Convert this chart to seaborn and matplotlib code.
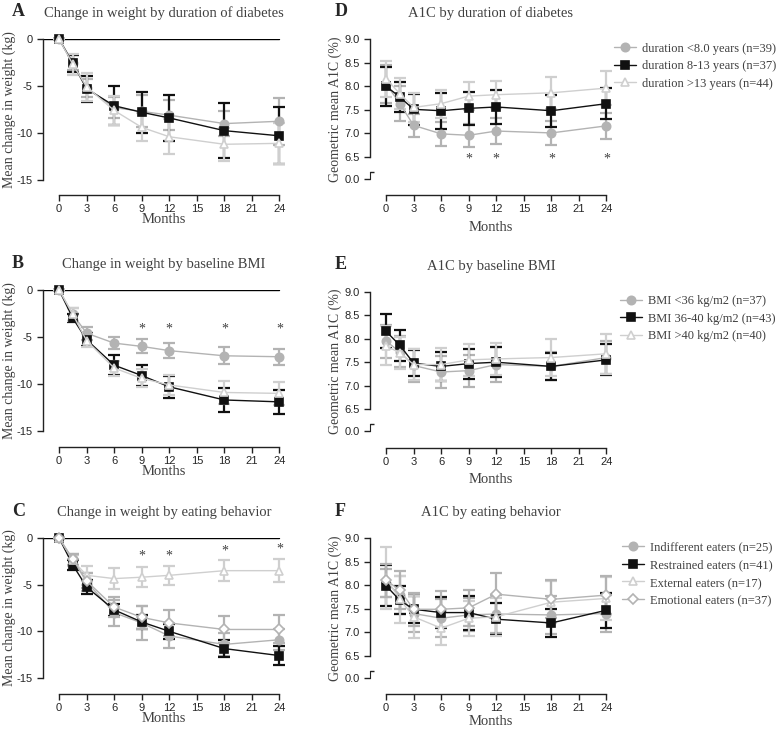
import numpy as np
import pandas as pd
import seaborn as sns
import matplotlib.pyplot as plt
from matplotlib.ticker import FormatStrFormatter

# ---- data ----
months = [0, 1.5, 3, 6, 9, 12, 18, 24]
month_ticks = [0, 3, 6, 9, 12, 15, 18, 21, 24]

# A: weight change by duration of diabetes
wt_dur_lt8 = [0, -2.5, -5.2, -7.3, -7.7, -8.1, -9.0, -8.75]
wt_dur_lt8_se = [0, 0.75, 0.95, 1.1, 1.7, 1.6, 1.3, 2.5]
wt_dur_8_13 = [0, -2.6, -5.3, -7.1, -7.8, -8.4, -9.75, -10.3]
wt_dur_8_13_se = [0, 0.95, 1.4, 2.1, 2.2, 2.45, 2.95, 3.05]
wt_dur_gt13 = [0, -2.7, -5.1, -7.6, -9.4, -10.4, -11.2, -11.1]
wt_dur_gt13_se = [0, 1.1, 1.5, 1.5, 1.5, 1.85, 1.75, 2.2]

# B: weight change by baseline BMI
wt_bmi_lt36 = [0, -2.6, -4.6, -5.65, -6.0, -6.45, -7.0, -7.1]
wt_bmi_lt36_se = [0, 0.7, 0.7, 0.65, 0.75, 0.8, 0.9, 0.85]
wt_bmi_36_40 = [0, -3.0, -5.3, -8.0, -9.1, -10.3, -11.7, -11.9]
wt_bmi_36_40_se = [0, 0.45, 0.7, 1.05, 1.1, 1.15, 1.25, 1.3]
wt_bmi_gt40 = [0, -2.6, -5.4, -8.3, -9.4, -10.1, -10.9, -11.0]
wt_bmi_gt40_se = [0, 0.7, 0.7, 0.8, 0.95, 1.1, 1.2, 1.25]

# C: weight change by eating behavior
wt_indiff = [0, -2.3, -4.7, -8.0, -9.1, -10.5, -11.4, -10.9]
wt_indiff_se = [0, 0.6, 1.0, 1.4, 1.8, 1.3, 1.2, 1.1]
wt_restr = [0, -2.9, -5.25, -7.7, -9.0, -10.0, -11.85, -12.6]
wt_restr_se = [0, 0.5, 0.7, 0.65, 0.8, 0.8, 0.95, 1.0]
wt_extern = [0, -2.4, -4.0, -4.35, -4.2, -4.0, -3.5, -3.5]
wt_extern_se = [0, 0.6, 1.0, 1.1, 1.05, 1.05, 1.1, 1.25]
wt_emot = [0, -2.3, -4.6, -7.4, -8.5, -9.1, -9.8, -9.8]
wt_emot_se = [0, 0.6, 0.8, 1.05, 1.2, 1.4, 1.4, 1.5]

# D: A1C by duration of diabetes
a1c_dur_lt8 = [8.05, 7.63, 7.17, 6.99, 6.96, 7.05, 7.01, 7.16]
a1c_dur_lt8_se = [0.4, 0.37, 0.25, 0.25, 0.24, 0.27, 0.26, 0.28]
a1c_dur_8_13 = [8.0, 7.77, 7.51, 7.48, 7.53, 7.56, 7.48, 7.63]
a1c_dur_8_13_se = [0.41, 0.31, 0.33, 0.38, 0.35, 0.37, 0.34, 0.33]
a1c_dur_gt13 = [8.16, 7.84, 7.55, 7.63, 7.79, 7.82, 7.86, 7.96]
a1c_dur_gt13_se = [0.38, 0.33, 0.3, 0.3, 0.3, 0.28, 0.34, 0.36]

# E: A1C by baseline BMI
a1c_bmi_lt36 = [7.95, 7.72, 7.43, 7.29, 7.32, 7.45, 7.41, 7.6]
a1c_bmi_lt36_se = [0.35, 0.33, 0.36, 0.34, 0.34, 0.37, 0.3, 0.35]
a1c_bmi_36_40 = [8.16, 7.86, 7.48, 7.41, 7.47, 7.5, 7.41, 7.55]
a1c_bmi_36_40_se = [0.36, 0.33, 0.27, 0.31, 0.32, 0.32, 0.29, 0.33]
a1c_bmi_gt40 = [7.85, 7.7, 7.45, 7.45, 7.55, 7.57, 7.6, 7.68]
a1c_bmi_gt40_se = [0.42, 0.34, 0.34, 0.36, 0.34, 0.35, 0.39, 0.43]

# F: A1C by eating behavior
a1c_indiff = [8.05, 7.8, 7.4, 7.3, 7.37, 7.39, 7.37, 7.4]
a1c_indiff_se = [0.3, 0.4, 0.4, 0.4, 0.35, 0.4, 0.4, 0.4]
a1c_restr = [7.99, 7.68, 7.49, 7.42, 7.42, 7.28, 7.2, 7.47]
a1c_restr_se = [0.43, 0.3, 0.29, 0.32, 0.36, 0.34, 0.29, 0.37]
a1c_extern = [8.15, 7.7, 7.33, 7.09, 7.3, 7.33, 7.64, 7.72]
a1c_extern_se = [0.65, 0.5, 0.45, 0.36, 0.37, 0.4, 0.45, 0.45]
a1c_emot = [8.1, 7.9, 7.49, 7.49, 7.52, 7.81, 7.7, 7.79]
a1c_emot_se = [0.35, 0.4, 0.35, 0.38, 0.38, 0.45, 0.4, 0.4]

# significance markers
stars_b_x = [9, 12, 18, 24]
stars_b_y = [-4.2, -4.2, -4.2, -4.2]
stars_c_x = [9, 12, 18, 24]
stars_c_y = [-1.9, -1.9, -1.4, -1.2]
stars_d_x = [9, 12, 18, 24]
stars_d_y = [6.45, 6.45, 6.45, 6.45]

dur_labels = ["duration <8.0 years (n=39)", "duration 8-13 years (n=37)", "duration >13 years (n=44)"]
bmi_labels = ["BMI <36 kg/m2 (n=37)", "BMI 36-40 kg/m2 (n=43)", "BMI >40 kg/m2 (n=40)"]
eat_labels = ["Indifferent eaters (n=25)", "Restrained eaters (n=41)",
              "External eaters (n=17)", "Emotional eaters (n=37)"]

# ---- styling ----
sns.set_style("ticks")
plt.rcParams['font.family'] = ['Liberation Sans', 'DejaVu Sans']
plt.rcParams['axes.unicode_minus'] = False
SERIF = 'Liberation Serif'
TXT = '#404040'

GRAY = '#b3b3b3'
LIGHT = '#cfcfcf'
BLACK = '#111111'
circle = dict(color=GRAY, marker='o', mfc=GRAY, mec=GRAY)
square = dict(color=BLACK, marker='s', mfc=BLACK, mec=BLACK)
triangle = dict(color=LIGHT, marker='^', mfc='white', mec=LIGHT)
diamond = dict(color=GRAY, marker='D', mfc='white', mec=GRAY)

W, H = 782, 731
fig = plt.figure(figsize=(W / 100, H / 100), dpi=100)


def px_axes(left, top, bottom, width):
    return fig.add_axes([left / W, 1 - bottom / H, width / W, (bottom - top) / H])


def series(ax, y, se, st, label=None):
    ms = 5 if st['marker'] == 'D' else 6
    sns.lineplot(x=months, y=y, ax=ax, color=st['color'], marker=st['marker'],
                 markersize=ms, markerfacecolor=st['mfc'], markeredgecolor=st['mec'],
                 markeredgewidth=1.2, linewidth=1.0, label=label, clip_on=False, zorder=3)
    ax.errorbar(months, y, yerr=se, fmt='none', ecolor=st['color'], elinewidth=1.6,
                capsize=4.5, capthick=1.6, zorder=2, clip_on=False)


def style_x(ax, offset_px, labelpad):
    ax.set_xlim(-1.75, 24.6)
    ax.set_xticks(month_ticks)
    ax.spines['bottom'].set_bounds(0, 24)
    ax.spines['bottom'].set_position(('outward', offset_px * 0.72))
    ax.spines['top'].set_visible(False)
    ax.spines['right'].set_visible(False)
    ax.set_xlabel("Months", fontfamily=SERIF, fontsize=10.5, color=TXT, labelpad=labelpad)
    ax.tick_params(axis='both', length=4, width=1, labelsize=8, color='#222222')
    ax.tick_params(axis='x', pad=2.5)
    ax.set_facecolor('none')
    for s in ['left', 'bottom']:
        ax.spines[s].set_linewidth(1)
        ax.spines[s].set_color('#222222')


def weight_panel(top, bottom, xspine, title, letter, data):
    ax = px_axes(43, top, bottom, 242)
    for y, se, st in data:
        series(ax, y, se, st)
    if ax.get_legend():
        ax.get_legend().remove()
    ax.set_ylim(-15, 0)
    ax.set_yticks([0, -5, -10, -15])
    ax.spines['left'].set_bounds(-15, 0)
    xl = ax.get_xlim()
    ax.axhline(0, xmin=0, xmax=(24 - xl[0]) / (24.6 - xl[0]), color='black', lw=1, zorder=1)
    style_x(ax, xspine - bottom, -0.5)
    ax.set_ylabel("Mean change in weight (kg)", fontfamily=SERIF, fontsize=10, color=TXT)
    ax.yaxis.set_label_coords(-0.113, 0.5)
    ax.set_title(title, fontfamily=SERIF, fontsize=10.5, color=TXT, pad=16)
    fig.text(12 / W, 1 - (top - 27) / H, letter, fontfamily=SERIF, fontsize=13,
             fontweight='bold', va='center', ha='left')
    return ax


def a1c_panel(top, bottom0, xspine, title, letter, data, labels, leg_xy, xpad):
    ax = px_axes(370, top, bottom0, 242)
    for (y, se, st), lab in zip(data, labels):
        series(ax, y, se, st, lab)
    ax.set_ylim(6.5, 9.0)
    ax.set_yticks([6.5, 7.0, 7.5, 8.0, 8.5, 9.0])
    ax.yaxis.set_major_formatter(FormatStrFormatter('%.1f'))
    ax.spines['left'].set_bounds(6.5, 9.0)
    style_x(ax, xspine - bottom0, xpad)
    ax.set_ylabel("Geometric mean A1C (%)", fontfamily=SERIF, fontsize=10, color=TXT)
    ax.yaxis.set_label_coords(-0.115, 0.5 - 11 / (bottom0 - top))
    ax.set_title(title, fontfamily=SERIF, fontsize=10.5, color=TXT, pad=16)
    ax.legend(loc='upper left', bbox_to_anchor=leg_xy, frameon=False,
              prop={'family': SERIF, 'size': 9}, labelcolor=TXT, handlelength=1.8,
              handletextpad=0.45, labelspacing=0.45, borderaxespad=0, borderpad=0)
    fig.text(335 / W, 1 - (top - 27) / H, letter, fontfamily=SERIF, fontsize=13,
             fontweight='bold', va='center', ha='left')
    # broken-axis stub for the 0.0 tick
    zero_px = bottom0 + 22
    ax0 = px_axes(370, zero_px - 7, zero_px, 10)
    ax0.set_ylim(0, 1)
    ax0.set_yticks([0])
    ax0.set_yticklabels(["0.0"])
    ax0.set_yticks([1], minor=True)
    ax0.tick_params(axis='y', which='major', length=4, width=1, labelsize=8, color='#222222')
    ax0.tick_params(axis='y', which='minor', direction='in', length=3, width=1, color='#222222')
    ax0.set_xticks([])
    for s in ['top', 'right', 'bottom']:
        ax0.spines[s].set_visible(False)
    ax0.spines['left'].set_color('#222222')
    ax0.set_facecolor('none')
    return ax


def stars(ax, xs, ys):
    for x, y in zip(xs, ys):
        ax.text(x, y, "*", ha='center', va='center', fontsize=10, color=TXT, fontfamily=SERIF)


ax_a = weight_panel(39, 180, 195, "Change in weight by duration of diabetes", "A",
                    [(wt_dur_lt8, wt_dur_lt8_se, circle),
                     (wt_dur_8_13, wt_dur_8_13_se, square),
                     (wt_dur_gt13, wt_dur_gt13_se, triangle)])
ax_b = weight_panel(290, 431, 447, "Change in weight by baseline BMI", "B",
                    [(wt_bmi_lt36, wt_bmi_lt36_se, circle),
                     (wt_bmi_36_40, wt_bmi_36_40_se, square),
                     (wt_bmi_gt40, wt_bmi_gt40_se, triangle)])
ax_c = weight_panel(538, 678, 694, "Change in weight by eating behavior", "C",
                    [(wt_indiff, wt_indiff_se, circle),
                     (wt_restr, wt_restr_se, square),
                     (wt_extern, wt_extern_se, triangle),
                     (wt_emot, wt_emot_se, diamond)])
stars(ax_b, stars_b_x, stars_b_y)
stars(ax_c, stars_c_x, stars_c_y)

ax_d = a1c_panel(39, 157, 195, "A1C by duration of diabetes", "D",
                 [(a1c_dur_lt8, a1c_dur_lt8_se, circle),
                  (a1c_dur_8_13, a1c_dur_8_13_se, square),
                  (a1c_dur_gt13, a1c_dur_gt13_se, triangle)],
                 dur_labels, (1.008, 0.97), 5)
ax_e = a1c_panel(292, 409, 448, "A1C by baseline BMI", "E",
                 [(a1c_bmi_lt36, a1c_bmi_lt36_se, circle),
                  (a1c_bmi_36_40, a1c_bmi_36_40_se, square),
                  (a1c_bmi_gt40, a1c_bmi_gt40_se, triangle)],
                 bmi_labels, (1.033, 0.975), 4)
ax_f = a1c_panel(538, 656, 694, "A1C by eating behavior", "F",
                 [(a1c_indiff, a1c_indiff_se, circle),
                  (a1c_restr, a1c_restr_se, square),
                  (a1c_extern, a1c_extern_se, triangle),
                  (a1c_emot, a1c_emot_se, diamond)],
                 eat_labels, (1.04, 0.97), 1.5)
stars(ax_d, stars_d_x, stars_d_y)

fig.savefig("out.png", dpi=100)
